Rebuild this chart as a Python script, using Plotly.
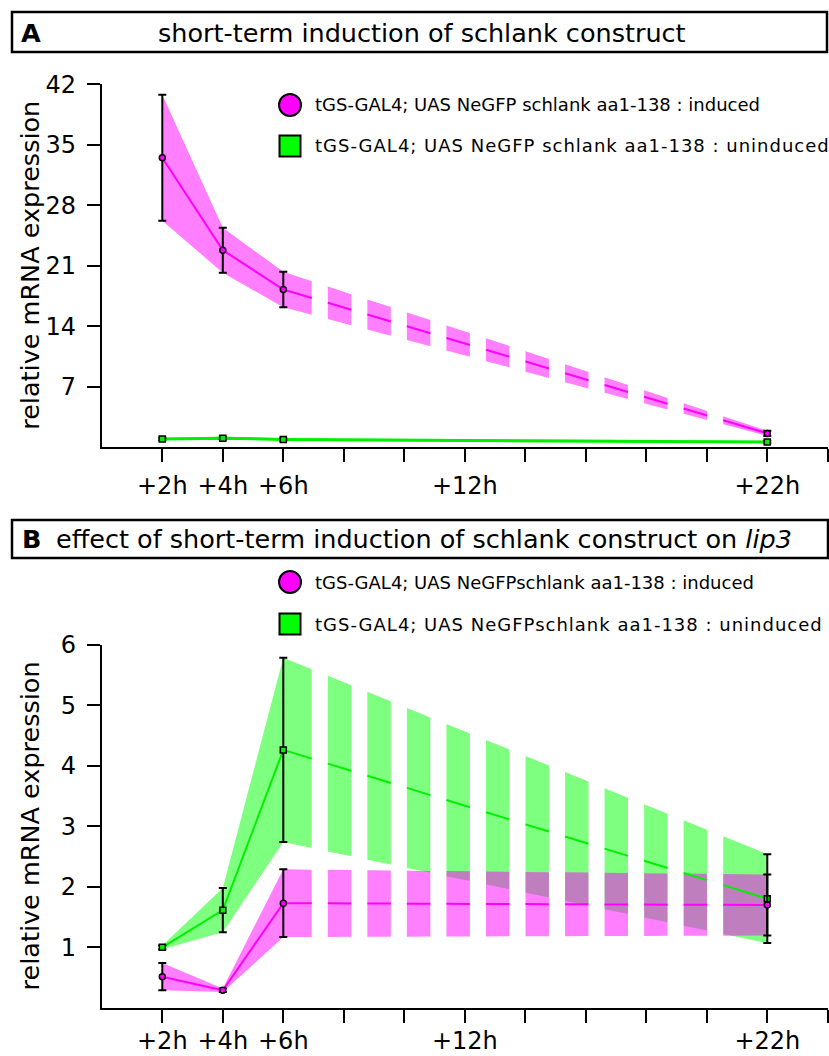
import numpy as np
import plotly.graph_objects as go

# ---- data -------------------------------------------------------------
HOURS = [2, 4, 6, 22]

A_INDUCED = [33.5, 22.8, 18.25, 1.6]
A_INDUCED_ERR = [7.3, 2.6, 2.05, 0.3]
A_UNINDUCED = [0.95, 1.05, 0.9, 0.6]
A_UNINDUCED_ERR = [0.15, 0.15, 0.15, 0.15]

B_INDUCED = [0.515, 0.29, 1.73, 1.70]
B_INDUCED_ERR = [0.225, 0.03, 0.56, 0.505]
B_UNINDUCED = [1.0, 1.615, 4.265, 1.805]
B_UNINDUCED_ERR = [0.03, 0.365, 1.525, 0.735]

X_TICKS = [2, 4, 6, 8, 10, 12, 14, 16, 18, 20, 22, 24]
X_TICK_LABELS = ["+2h", "+4h", "+6h", "", "", "+12h", "", "", "", "", "+22h", ""]
A_Y_TICKS = [7, 14, 21, 28, 35, 42]
B_Y_TICKS = [1, 2, 3, 4, 5, 6]

LEGEND_A = ["tGS-GAL4; UAS NeGFP schlank aa1-138 : induced",
            "tGS-GAL4; UAS NeGFP schlank aa1-138 : uninduced"]
LEGEND_B = ["tGS-GAL4; UAS NeGFPschlank aa1-138 : induced",
            "tGS-GAL4; UAS NeGFPschlank aa1-138 : uninduced"]

# ---- style ------------------------------------------------------------
W, H = 829, 1056
FONT = "DejaVu Sans"
MAGENTA = "#ff00ff"
MAGENTA_BAND = "rgba(255,0,255,0.5)"
GREEN = "#00f000"
GREEN_BAND = "rgba(0,255,0,0.5)"

# dash pattern (in hours) used for the long 6h -> 22h stretch
FIRST_GAP = 6.94
DASH_PERIOD = 1.307
GAP_LEN = 0.532
N_GAPS = 11


def px(x):
    return x / W


def py(y):
    return 1 - y / H


def on_intervals(x0, x1, dashed):
    if not dashed:
        return [(x0, x1)]
    out, a = [], x0
    for k in range(N_GAPS):
        g = FIRST_GAP + k * DASH_PERIOD
        out.append((a, g))
        a = g + GAP_LEN
    out.append((a, x1))
    return out


def clip(xs, ys, a, b):
    px_ = [a] + [x for x in xs if a < x < b] + [b]
    return px_, list(np.interp(px_, xs, ys))


def band_and_line(xs, mean, err, dashed):
    xs = np.asarray(xs, float)
    mean = np.asarray(mean, float)
    err = np.asarray(err, float)
    hi, lo = mean + err, mean - err
    bx, by, lx, ly = [], [], [], []
    for a, b in on_intervals(xs[0], xs[-1], dashed):
        cx, chi = clip(xs, hi, a, b)
        _, clo = clip(xs, lo, a, b)
        _, cm = clip(xs, mean, a, b)
        bx += cx + cx[::-1] + [None]
        by += chi + clo[::-1] + [None]
        lx += cx + [None]
        ly += cm + [None]
    return bx, by, lx, ly


fig = go.Figure()


def add_series(xa, ya, mean, err, line_col, band_col, symbol, dashed, lw):
    bx, by, lx, ly = band_and_line(HOURS, mean, err, dashed)
    band = go.Scatter(x=bx, y=by, mode="lines", fill="toself",
                      fillcolor=band_col, line=dict(width=0),
                      hoverinfo="skip", showlegend=False, xaxis=xa, yaxis=ya)
    line = go.Scatter(x=lx, y=ly, mode="lines",
                      line=dict(color=line_col, width=lw),
                      hoverinfo="skip", showlegend=False, xaxis=xa, yaxis=ya)
    pts = go.Scatter(x=HOURS, y=mean, mode="markers",
                     marker=dict(symbol=symbol, size=6, color=line_col,
                                 line=dict(color="black", width=1.5)),
                     error_y=dict(type="data", array=err, color="black",
                                  thickness=2, width=4),
                     showlegend=False, xaxis=xa, yaxis=ya)
    return band, line, pts


# panel A
bA_u, lA_u, pA_u = add_series("x", "y", A_UNINDUCED, A_UNINDUCED_ERR,
                              GREEN, GREEN_BAND, "square", False, 3)
bA_i, lA_i, pA_i = add_series("x", "y", A_INDUCED, A_INDUCED_ERR,
                              MAGENTA, MAGENTA_BAND, "circle", True, 2)
for t in (bA_u, bA_i, lA_u, lA_i, pA_u, pA_i):
    fig.add_trace(t)

# panel B
bB_u, lB_u, pB_u = add_series("x2", "y2", B_UNINDUCED, B_UNINDUCED_ERR,
                              GREEN, GREEN_BAND, "square", True, 2)
bB_i, lB_i, pB_i = add_series("x2", "y2", B_INDUCED, B_INDUCED_ERR,
                              MAGENTA, MAGENTA_BAND, "circle", True, 2)
for t in (bB_u, bB_i, lB_u, lB_i, pB_u, pB_i):
    fig.add_trace(t)

x_dom = [px(101.8), px(827.8)]
axis_common = dict(showline=True, linewidth=2, linecolor="black",
                   ticks="outside", ticklen=13, tickwidth=2, tickcolor="black",
                   showgrid=False, zeroline=False, automargin=False,
                   tickfont=dict(family=FONT, size=24, color="black"))

fig.update_layout(
    width=W, height=H, autosize=False,
    margin=dict(l=0, r=0, t=0, b=0, pad=0),
    paper_bgcolor="white", plot_bgcolor="white",
    xaxis=dict(domain=x_dom, range=[0, 24], tickvals=X_TICKS,
               ticktext=X_TICK_LABELS, anchor="y", ticklabelstandoff=3,
               **axis_common),
    yaxis=dict(domain=[py(447.2), py(84.3)], range=[0, 42],
               tickvals=A_Y_TICKS, anchor="x", ticklabelstandoff=6,
               **axis_common),
    xaxis2=dict(domain=x_dom, range=[0, 24], tickvals=X_TICKS,
                ticktext=X_TICK_LABELS, anchor="y2", ticklabelstandoff=-3,
                **axis_common),
    yaxis2=dict(domain=[py(1007.8), py(645)], range=[0, 6],
                tickvals=B_Y_TICKS, anchor="x2", ticklabelstandoff=6,
                **axis_common),
)

shapes = [
    dict(type="rect", xref="paper", yref="paper",
         x0=px(12), x1=px(827), y0=py(52), y1=py(12),
         line=dict(color="black", width=2.5)),
    dict(type="rect", xref="paper", yref="paper",
         x0=px(12), x1=px(828), y0=py(558), y1=py(520),
         line=dict(color="black", width=2.5)),
]

annotations = [
    dict(text="<b>A</b>", x=px(19), y=py(33)),
    dict(text="short-term induction of schlank construct", x=px(156), y=py(33)),
    dict(text="<b>B</b>", x=px(20), y=py(539)),
    dict(text="effect of short-term induction of schlank construct on <i>lip3</i>",
         x=px(54), y=py(539)),
]
for a in annotations:
    a.update(xref="paper", yref="paper", showarrow=False,
             xanchor="left", yanchor="middle",
             font=dict(family=FONT, size=25.5, color="black"))


# legends: drawn swatches plus labels; the second row is set with wider tracking
def legend_rows(labels, cy_circle, cy_square):
    r = 11
    cx = 290
    shapes.append(dict(type="circle", xref="paper", yref="paper",
                       x0=px(cx - r), x1=px(cx + r),
                       y0=py(cy_circle + r), y1=py(cy_circle - r),
                       fillcolor=MAGENTA, line=dict(color="black", width=2)))
    shapes.append(dict(type="rect", xref="paper", yref="paper",
                       x0=px(cx - 10.5), x1=px(cx + 10.5),
                       y0=py(cy_square + 10.5), y1=py(cy_square - 10.5),
                       fillcolor="#00ff00", line=dict(color="black", width=2)))
    for lab, cy, track in zip(labels, (cy_circle, cy_square), (0, 1)):
        text = lab if track == 0 else (
            '<span style="letter-spacing:%dpx">%s</span>' % (track, lab))
        annotations.append(dict(text=text, x=px(313), y=py(cy),
                                xref="paper", yref="paper",
                                xanchor="left", yanchor="middle",
                                showarrow=False,
                                font=dict(family=FONT, size=18, color="black")))


legend_rows(LEGEND_A, 105, 146)
legend_rows(LEGEND_B, 582, 624)

# y-axis titles
for cy in ((84.3 + 447.2) / 2, (645 + 1007.8) / 2):
    annotations.append(dict(text="relative mRNA expression", x=px(30), y=py(cy),
                            xref="paper", yref="paper", textangle=-90,
                            xanchor="center", yanchor="middle", showarrow=False,
                            font=dict(family=FONT, size=25.5, color="black")))

fig.update_layout(shapes=shapes, annotations=annotations)
fig.write_html("out.html")
